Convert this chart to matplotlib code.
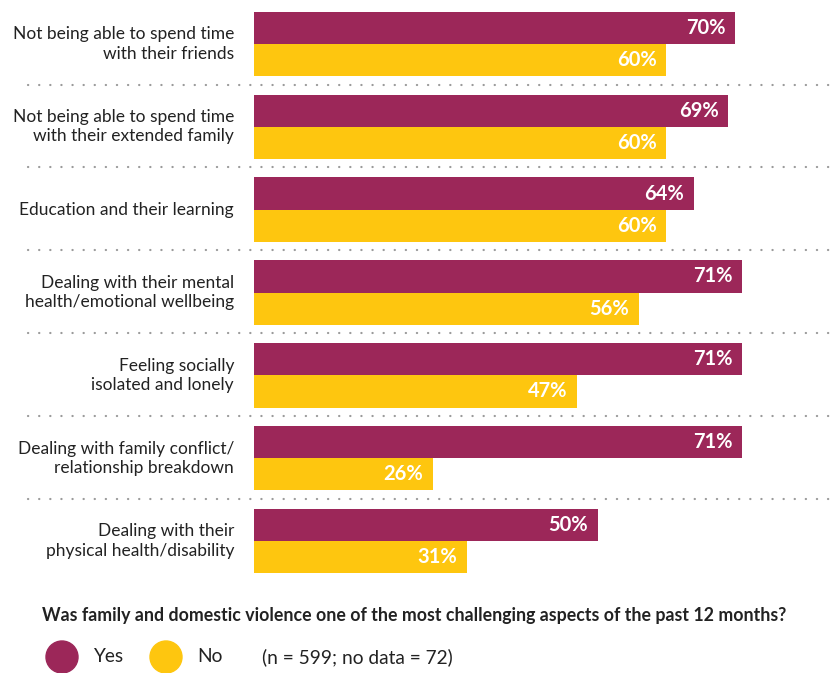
import matplotlib.pyplot as plt
from matplotlib.patches import Circle

# Survey results: share of respondents citing each aspect as challenging
categories = [
    "Not being able to spend time\nwith their friends",
    "Not being able to spend time\nwith their extended family",
    "Education and their learning",
    "Dealing with their mental\nhealth/emotional wellbeing",
    "Feeling socially\nisolated and lonely",
    "Dealing with family conflict/\nrelationship breakdown",
    "Dealing with their\nphysical health/disability",
]
yes_values = [70, 69, 64, 71, 71, 71, 50]
no_values = [60, 60, 60, 56, 47, 26, 31]

yes_color = "#9C2759"
no_color = "#FEC60F"
text_color = "#222222"
font = ["Lato", "DejaVu Sans"]

plt.rcParams["font.family"] = font

fig = plt.figure(figsize=(8.36, 6.73), dpi=100)
ax = fig.add_axes([254 / 836, 1 - 582.4 / 673, 576 / 836, 579.8 / 673])

bar_h = 0.39
positions = list(range(len(categories)))
ax.barh([p - bar_h / 2 for p in positions], yes_values, height=bar_h, color=yes_color)
ax.barh([p + bar_h / 2 for p in positions], no_values, height=bar_h, color=no_color)

ax.set_xlim(0, 83.8)
ax.set_ylim(len(categories) - 0.5, -0.5)
ax.axis("off")

# value labels inside the bar ends
for p, yv, nv in zip(positions, yes_values, no_values):
    ax.text(yv - 1.4, p - bar_h / 2, f"{yv}%", ha="right", va="center",
            color="white", fontsize=14.5, fontweight="bold")
    ax.text(nv - 1.4, p + bar_h / 2, f"{nv}%", ha="right", va="center",
            color="white", fontsize=14.5, fontweight="bold")

# category labels to the left of the bars
for p, cat in zip(positions, categories):
    ax.text(-2.9, p, cat, ha="right", va="center", color=text_color,
            fontsize=12.5, linespacing=1.25)

# dotted separators between groups
for p in positions[:-1]:
    ax.axhline(p + 0.49, xmin=-0.392, xmax=1.0, color="#9a9a9a", lw=1.6,
               linestyle=(0, (0.1, 4.9)), dash_capstyle="round", clip_on=False)

# legend
fig.text(42 / 836, 1 - 615 / 673, "Was family and domestic violence one of the most "
         "challenging aspects of the past 12 months?", ha="left", va="center",
         color=text_color, fontsize=12.8, fontweight="bold")
for cx, col in [(62, yes_color), (166, no_color)]:
    fig.add_artist(Circle((cx / 100, (673 - 657) / 100), 0.16, color=col,
                          transform=fig.dpi_scale_trans))
fig.text(93 / 836, 1 - 657 / 673, "Yes", ha="left", va="center", color=text_color, fontsize=13.8)
fig.text(197 / 836, 1 - 657 / 673, "No", ha="left", va="center", color=text_color, fontsize=13.8)
fig.text(262 / 836, 1 - 657 / 673, "(n = 599; no data = 72)", ha="left", va="center",
         color=text_color, fontsize=13.8)

fig.savefig("out.png", dpi=100)
